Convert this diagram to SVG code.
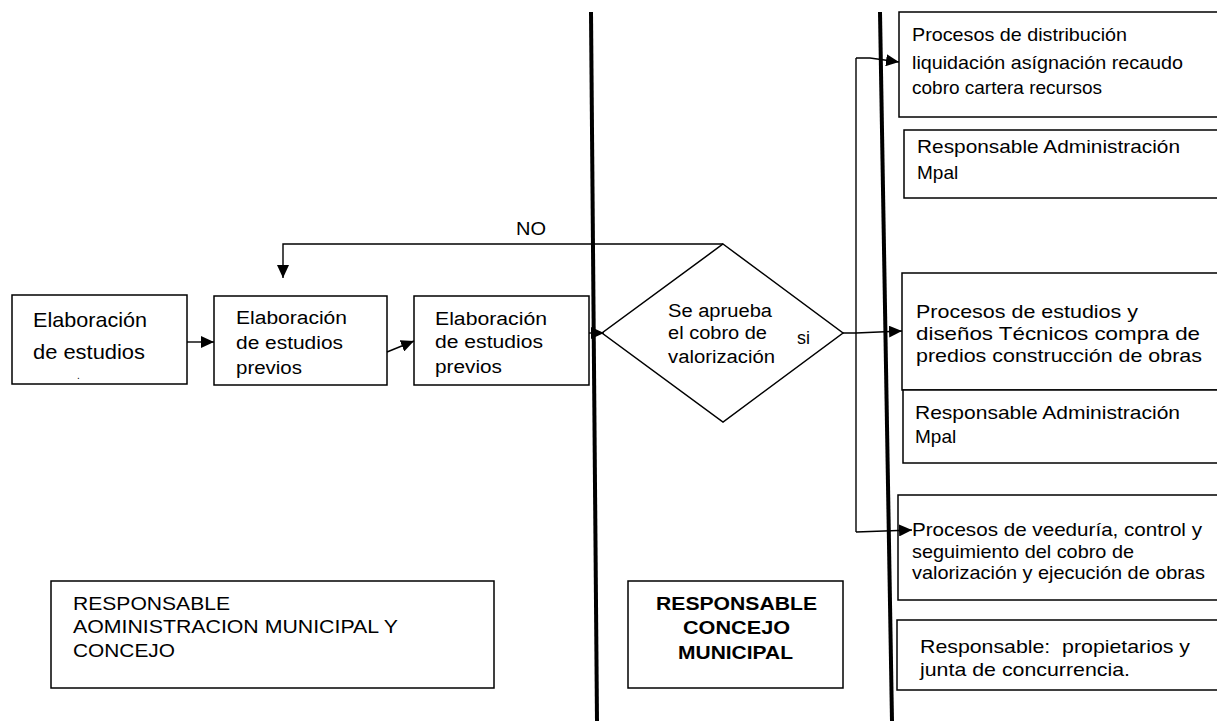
<svg xmlns="http://www.w3.org/2000/svg" width="1217" height="721" viewBox="0 0 1217 721">
<style>
.box{fill:#fff;stroke:#000;stroke-width:1.5}
.lane{stroke:#000;stroke-width:4;fill:none}
.con{stroke:#000;stroke-width:1.4;fill:none}
text{font-family:"Liberation Sans",Arial,sans-serif;fill:#000}
.t18{font-size:18px}
.t19{font-size:19px}
.t21{font-size:21px}
.b{font-weight:bold}
</style>
<defs>
<marker id="ah" markerUnits="userSpaceOnUse" markerWidth="14" markerHeight="12" refX="13" refY="6" orient="auto">
<path d="M0,0 L13,6 L0,12 z" fill="#000"/>
</marker>
</defs>
<rect width="1217" height="721" fill="#fff"/>

<g id="lanes">
<line class="lane" x1="591" y1="12" x2="597" y2="721"/>
<line class="lane" x1="880" y1="12" x2="892" y2="721"/>
</g>

<g id="n1">
<rect class="box" x="12" y="295" width="175" height="89"/>
<text class="t21" x="33" y="327" textLength="114" lengthAdjust="spacingAndGlyphs">Elaboración</text>
<text class="t21" x="33" y="359" textLength="112" lengthAdjust="spacingAndGlyphs">de estudios</text>
<text x="77" y="379" style="font-size:10px">.</text>
</g>

<g id="n2">
<rect class="box" x="214" y="296" width="173" height="89"/>
<text class="t18" x="236" y="324" textLength="111" lengthAdjust="spacingAndGlyphs">Elaboración</text>
<text class="t18" x="236" y="349" textLength="107" lengthAdjust="spacingAndGlyphs">de estudios</text>
<text class="t18" x="236" y="374" textLength="66" lengthAdjust="spacingAndGlyphs">previos</text>
</g>

<g id="n3">
<rect class="box" x="414" y="296" width="175" height="89"/>
<text class="t18" x="435" y="325" textLength="112" lengthAdjust="spacingAndGlyphs">Elaboración</text>
<text class="t18" x="435" y="348" textLength="108" lengthAdjust="spacingAndGlyphs">de estudios</text>
<text class="t18" x="435" y="373" textLength="67" lengthAdjust="spacingAndGlyphs">previos</text>
</g>

<g id="decision">
<polygon class="box" points="723,244 843,333 723,422 602,333"/>
<text class="t18" x="668" y="317" textLength="104" lengthAdjust="spacingAndGlyphs">Se aprueba</text>
<text class="t18" x="668" y="339" textLength="99" lengthAdjust="spacingAndGlyphs">el cobro de</text>
<text class="t18" x="668" y="363" textLength="107" lengthAdjust="spacingAndGlyphs">valorización</text>
</g>

<g id="pA">
<rect class="box" x="899" y="12" width="330" height="105"/>
<text class="t19" x="912" y="41" textLength="215" lengthAdjust="spacingAndGlyphs">Procesos de distribución</text>
<text class="t19" x="912" y="69" textLength="271" lengthAdjust="spacingAndGlyphs">liquidación asígnación recaudo</text>
<text class="t19" x="912" y="94">cobro cartera recursos</text>
</g>

<g id="rA">
<rect class="box" x="904" y="130" width="330" height="68"/>
<text class="t19" x="917" y="153" textLength="263" lengthAdjust="spacingAndGlyphs">Responsable Administración</text>
<text class="t19" x="917" y="179">Mpal</text>
</g>

<g id="pB">
<rect class="box" x="902" y="273" width="330" height="117"/>
<text class="t19" x="916" y="318" textLength="222" lengthAdjust="spacingAndGlyphs">Procesos de estudios y</text>
<text class="t19" x="916" y="340" textLength="284" lengthAdjust="spacingAndGlyphs">diseños Técnicos compra de</text>
<text class="t19" x="916" y="362" textLength="286" lengthAdjust="spacingAndGlyphs">predios construcción de obras</text>
</g>

<g id="rB">
<rect class="box" x="903" y="390" width="330" height="73"/>
<text class="t19" x="915" y="419" textLength="265" lengthAdjust="spacingAndGlyphs">Responsable Administración</text>
<text class="t19" x="915" y="443">Mpal</text>
</g>

<g id="pC">
<rect class="box" x="898" y="495" width="330" height="105"/>
<text class="t19" x="912" y="536" textLength="290" lengthAdjust="spacingAndGlyphs">Procesos de veeduría, control y</text>
<text class="t19" x="912" y="558" textLength="222" lengthAdjust="spacingAndGlyphs">seguimiento del cobro de</text>
<text class="t19" x="912" y="579" textLength="293" lengthAdjust="spacingAndGlyphs">valorización y ejecución de obras</text>
</g>

<g id="rC">
<rect class="box" x="897" y="620" width="330" height="70"/>
<text class="t19" x="920" y="653" textLength="270" lengthAdjust="spacingAndGlyphs" xml:space="preserve">Responsable:  propietarios y</text>
<text class="t19" x="920" y="676" textLength="210" lengthAdjust="spacingAndGlyphs">junta de concurrencia.</text>
</g>

<g id="respAdmin">
<rect class="box" x="51" y="581" width="443" height="107"/>
<text class="t19" x="73" y="610" textLength="157" lengthAdjust="spacingAndGlyphs">RESPONSABLE</text>
<text class="t19" x="73" y="633" textLength="325" lengthAdjust="spacingAndGlyphs">AOMINISTRACION MUNICIPAL Y</text>
<text class="t19" x="73" y="657" textLength="102" lengthAdjust="spacingAndGlyphs">CONCEJO</text>
</g>

<g id="respConcejo">
<rect class="box" x="628" y="581" width="215" height="107"/>
<text class="t19 b" x="656" y="610" textLength="161" lengthAdjust="spacingAndGlyphs">RESPONSABLE</text>
<text class="t19 b" x="683" y="634" textLength="107" lengthAdjust="spacingAndGlyphs">CONCEJO</text>
<text class="t19 b" x="678" y="659" textLength="115" lengthAdjust="spacingAndGlyphs">MUNICIPAL</text>
</g>

<g id="connectors">
<line class="con" x1="187" y1="342" x2="214" y2="342" marker-end="url(#ah)"/>
<line class="con" x1="387" y1="352" x2="414" y2="341" marker-end="url(#ah)"/>
<line class="con" x1="589" y1="333" x2="604" y2="333" marker-end="url(#ah)"/>
<polyline class="con" points="723,244 283,244 283,278" marker-end="url(#ah)"/>
<text class="t18" x="516" y="235" textLength="30" lengthAdjust="spacingAndGlyphs">NO</text>
<polyline class="con" points="843,333 856,333 902,331" marker-end="url(#ah)"/>
<text class="t18" x="797" y="344">si</text>
<line class="con" x1="856" y1="58" x2="856" y2="532"/>
<polyline class="con" points="856,58 870,58 899,62" marker-end="url(#ah)"/>
<polyline class="con" points="856,532 912,530" marker-end="url(#ah)"/>
</g>
</svg>
